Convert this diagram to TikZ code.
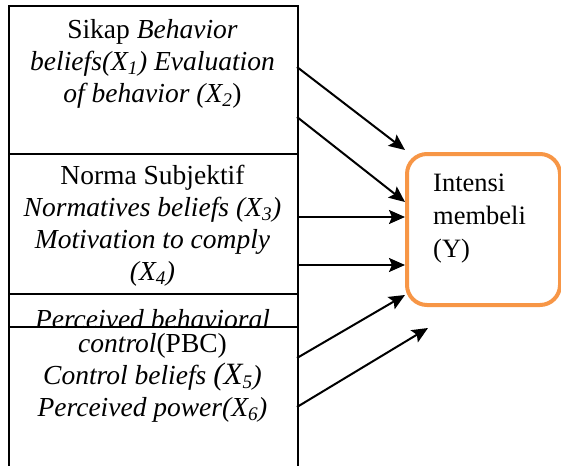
\documentclass[tikz,border=0pt]{standalone}
\usepackage{fontspec}
\setmainfont{Liberation Serif}
\usepackage{xcolor}
\usetikzlibrary{arrows.meta}
\definecolor{accent}{HTML}{F79646}
\tikzset{
  box/.style={draw=black, line width=2pt, fill=white, minimum width=289pt, anchor=north west, inner sep=0pt},
  txt/.style={font=\fontsize{27.5}{32}\selectfont, align=center, inner sep=0pt},
  goal/.style={draw=accent, line width=4pt, rounded corners=20pt, fill=white, minimum width=153pt, minimum height=151pt, anchor=north west, inner sep=0pt},
  arr/.style={draw=black, line width=2pt, -{Stealth[length=16pt, width=14pt, inset=3pt]}},
}

\begin{document}
\begin{tikzpicture}[x=1pt, y=-1pt]
  \useasboundingbox (0,0) rectangle (561,465);
  \node[box, minimum height=148pt] (sikap) at (8,5) {};
  \node[box, minimum height=140pt] (norma) at (8,153) {};
  \node[box, minimum height=180pt] (pbc) at (8,293) {};
  \node[txt, anchor=base] (pbct) at (152.5,328) {\textit{Perceived behavioral}};
  \node[box, minimum height=150pt] (kontrol) at (8,326) {};
  \node[txt, anchor=north] (sikapt) at (152.5,19.5) {Sikap \textit{Behavior}\\
    \textit{beliefs(X\textsubscript{1}) Evaluation}\\
    \textit{of behavior (X\textsubscript{2}})};
  \node[txt, anchor=north] (normat) at (152.5,164.5) {Norma Subjektif\\
    \textit{Normatives beliefs (X\textsubscript{3})}\\
    \textit{Motivation to comply}\\
    \textit{(X\textsubscript{4})}};
  \node[txt, anchor=north] (kontrolt) at (152.5,333.5) {\textit{control}(PBC)\\
    \textit{Control beliefs {\fontsize{31}{32}\selectfont(X}\textsubscript{5})}\\
    \textit{Perceived power(X\textsubscript{6})}};
  \node[goal] (intensi) at (405,152) {};
  \node[txt, align=left, anchor=north west, font=\fontsize{26.5}{33}\selectfont] (intensit) at (433,174) {Intensi\\ membeli\\ (Y)};
  \foreach \n/\sy/\ex/\ey in {1/67/405/150, 2/117/405/202, 3/217/405/217, 4/265/405/265, 5/358/405/295, 6/407/428/328} {
    \coordinate (s\n) at (297,\sy);
    \coordinate (e\n) at (\ex,\ey);
    \draw[arr] (s\n) -- (e\n);
  }
\end{tikzpicture}
\end{document}
